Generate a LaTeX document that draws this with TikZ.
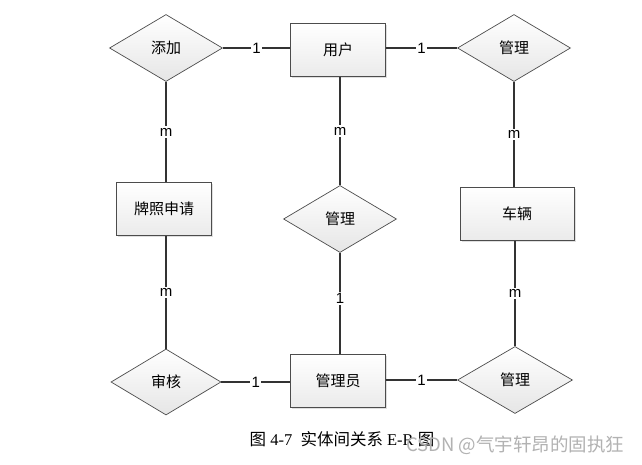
\documentclass[tikz,border=0pt]{standalone}
\usepackage{fontspec}
\setmainfont{Liberation Serif}
\newfontfamily\cjk{Noto Sans CJK SC}
\newfontfamily\lbl{Liberation Sans}
\usetikzlibrary{shapes.geometric,shadows}
\begin{document}
\begin{tikzpicture}[x=1pt,y=-1pt,
  ent/.style={draw=black!70,line width=0.7pt,top color=white,bottom color=black!8,
    minimum width=95pt,minimum height=53pt,inner sep=0pt,font=\cjk\fontsize{15}{17}\selectfont,
    drop shadow={shadow xshift=1.5pt,shadow yshift=-1.5pt,opacity=0.25}},
  rel/.style={diamond,draw=black!70,line width=0.7pt,top color=white,bottom color=black!10,
    aspect=1.7,minimum width=113pt,minimum height=67pt,inner sep=0pt,font=\cjk\fontsize{15}{17}\selectfont},
  lnk/.style={draw=black!80,line width=1.1pt},
  card/.style={fill=white,inner sep=1.5pt,font=\lbl\fontsize{15}{17}\selectfont}
]
\useasboundingbox (0,0) rectangle (642,465);
\fill[white] (0,0) rectangle (642,465);
% nodes
\node[rel] (tj) at (166,48) {添加};
\node[ent] (yh) at (338,50) {用户};
\node[rel] (gl1) at (514,48) {管理};
\node[ent] (pz) at (164,209) {牌照申请};
\node[rel] (gl2) at (340,219) {管理};
\node[ent,minimum width=114pt] (cl) at (517,214) {车辆};
\node[rel,minimum width=110pt,minimum height=66pt] (sh) at (166,382) {审核};
\node[ent] (gly) at (338,381) {管理员};
\node[rel,minimum width=115pt] (gl3) at (515,380) {管理};
% connectors
\draw[lnk] (tj.east) -- node[card]{1} (tj.east -| yh.west);
\draw[lnk] (yh.east |- gl1.west) -- node[card]{1} (gl1.west);
\draw[lnk] (tj.south) -- node[card]{m} (tj.south |- pz.north);
\draw[lnk] (gl2.north |- yh.south) -- node[card]{m} (gl2.north);
\draw[lnk] (gl1.south) -- node[card]{m} (gl1.south |- cl.north);
\draw[lnk] (sh.north |- pz.south) -- node[card,pos=0.5]{m} (sh.north);
\draw[lnk] (gl2.south) -- node[card,pos=0.45]{1} (gl2.south |- gly.north);
\draw[lnk] (gl3.north |- cl.south) -- node[card,pos=0.5]{m} (gl3.north);
\draw[lnk] (sh.east) -- node[card]{1} (sh.east -| gly.west);
\draw[lnk] (gly.east |- gl3.west) -- node[card]{1} (gl3.west);
% caption
\node[font=\fontsize{16.5}{18}\selectfont] (cap) at (342,439) {{\cjk 图} 4-7\ \ {\cjk 实体间关系} E-R {\cjk 图}};
\node[font=\cjk\fontsize{18.5}{20}\selectfont,text=black!30,anchor=east] (wm) at (628,445) {CSDN @气宇轩昂的固执狂};
\end{tikzpicture}
\end{document}
